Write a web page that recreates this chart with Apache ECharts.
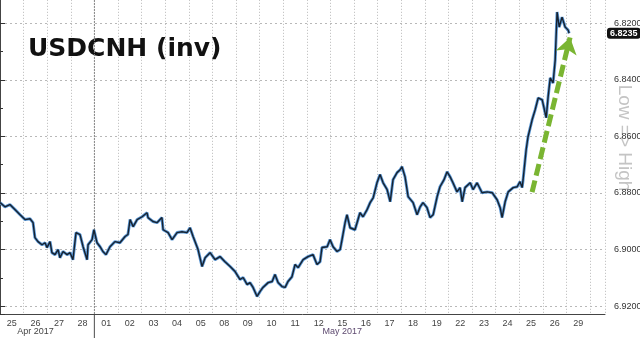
<!DOCTYPE html>
<html><head><meta charset="utf-8">
<script src="https://cdn.jsdelivr.net/npm/echarts@6/dist/echarts.min.js"></script>
<style>html,body{margin:0;padding:0;background:#fff}#c{width:640px;height:343px}</style>
</head><body><div id="c"></div>
<script>
// ---- data ----
const dayLabels = ['25','26','27','28','01','02','03','04','05','08','09','10','11','12','15','16','17','18','19','22','23','24','25','26','29'];
const monthLabels = ['Apr 2017', 'May 2017'];
const monthLabelDays = [1, 14];
const monthStartDay = 4;
const titleText = 'USDCNH (inv)';
const axisNote = 'Low => High';
// time in trading days from Apr 25 open
const times = [0.00,0.21,0.42,0.47,0.64,0.85,1.06,1.27,1.40,1.48,1.61,1.78,1.91,1.99,2.12,2.20,2.33,2.46,2.54,2.67,2.84,2.97,3.09,3.22,3.39,3.52,3.69,3.73,3.90,3.98,
4.11,4.24,4.36,4.49,4.66,4.87,5.08,5.30,5.42,5.51,5.64,5.81,6.02,6.23,6.27,6.48,6.65,6.86,6.91,7.12,7.29,7.50,7.71,7.92,8.05,8.18,8.39,8.56,8.69,8.90,
9.11,9.32,9.53,9.75,9.96,10.17,10.30,10.47,10.59,10.72,10.89,11.02,11.14,11.36,11.53,11.65,11.78,11.95,12.08,12.20,12.37,12.50,12.63,12.84,13.05,13.26,13.43,13.56,13.64,13.86,
13.98,14.11,14.28,14.41,14.49,14.62,14.70,14.83,15.04,15.25,15.38,15.55,15.68,15.81,15.97,16.10,16.23,16.40,16.53,16.65,16.82,16.95,17.03,17.16,17.29,17.50,17.67,17.80,17.92,18.09,
18.22,18.35,18.52,18.64,18.81,18.94,19.07,19.19,19.36,19.49,19.58,19.70,19.92,20.04,20.21,20.42,20.64,20.85,21.06,21.19,21.27,21.40,21.53,21.74,21.91,22.03,22.12,22.16,22.29,22.37,
22.54,22.67,22.80,22.97,23.14,23.22,23.31,23.43,23.52,23.60,23.69,23.81,23.94,24.07,24.11];
const values = [6.8834,6.8849,6.8841,6.8834,6.8859,6.8877,6.8894,6.8891,6.8905,6.8958,6.8972,6.8983,6.8976,6.8993,6.8972,6.9011,6.9018,6.9000,6.9029,6.9007,6.9018,6.9011,6.9036,6.8940,6.8947,6.8990,6.9036,6.8983,6.8965,6.8930,
6.8976,6.8990,6.9007,6.9018,6.8990,6.8972,6.8976,6.8954,6.8947,6.8894,6.8919,6.8894,6.8884,6.8870,6.8887,6.8901,6.8905,6.8887,6.8930,6.8940,6.8965,6.8940,6.8937,6.8940,6.8923,6.8954,6.9000,6.9060,6.9029,6.9011,
6.9036,6.9025,6.9043,6.9060,6.9078,6.9106,6.9099,6.9124,6.9117,6.9134,6.9166,6.9148,6.9134,6.9117,6.9113,6.9088,6.9117,6.9131,6.9134,6.9113,6.9096,6.9053,6.9064,6.9036,6.9025,6.9018,6.9053,6.9043,6.8993,6.8990,
6.8965,6.8990,6.9007,6.9000,6.8965,6.8905,6.8877,6.8923,6.8930,6.8870,6.8884,6.8859,6.8834,6.8817,6.8764,6.8735,6.8764,6.8788,6.8831,6.8753,6.8728,6.8718,6.8707,6.8743,6.8813,6.8834,6.8877,6.8849,6.8834,6.8852,
6.8887,6.8877,6.8813,6.8778,6.8753,6.8725,6.8743,6.8764,6.8796,6.8781,6.8831,6.8781,6.8764,6.8788,6.8764,6.8799,6.8796,6.8799,6.8824,6.8852,6.8887,6.8831,6.8796,6.8781,6.8778,6.8760,6.8781,6.8753,6.8647,6.8601,
6.8542,6.8506,6.8464,6.8471,6.8534,6.8460,6.8393,6.8411,6.8330,6.8160,6.8213,6.8178,6.8213,6.8224,6.8235];
const lastPrice = 6.8235;
const arrowFrom = [22.54, 6.8797];
const arrowTo = [24.15, 6.8250];

// ---- chart ----
const chart = echarts.init(document.getElementById('c'), null, {renderer: 'canvas'});
const seriesData = times.map((t, i) => [t, values[i]]);
const font = 'Liberation Sans';
const X_MAX = 25.63;
const Y_MIN = 6.80, Y_MAX = 6.9228;

chart.setOption({
  animation: false,
  backgroundColor: '#ffffff',
  grid: {left: 0, right: 35, top: -33.2, bottom: 29, containLabel: false, outerBoundsMode: 'none'},
  xAxis: [{
    type: 'value', min: 0, max: X_MAX, interval: 1,
    axisLine: {show: true, onZero: false, lineStyle: {color: '#444', width: 1}},
    axisTick: {show: false},
    axisLabel: {show: false},
    splitLine: {show: true, lineStyle: {color: '#b8b8b8', type: [1, 2], width: 1}}
  }, {
    type: 'value', min: -0.5, max: X_MAX - 0.5, interval: 0.5, position: 'bottom',
    axisLine: {show: false}, axisTick: {show: false}, splitLine: {show: false},
    axisLabel: {
      show: true, margin: 5, fontFamily: font, fontSize: 9, color: '#444',
      showMinLabel: true, showMaxLabel: true,
      formatter: v => {
        const r = Math.round(v);
        if (Math.abs(v - r) > 1e-6) return '';
        return dayLabels[r] !== undefined ? dayLabels[r] : '';
      }
    }
  }],
  yAxis: {
    type: 'value', position: 'right', inverse: true,
    min: Y_MIN, max: Y_MAX, interval: 0.02,
    axisLine: {show: true, lineStyle: {color: '#444', width: 1}},
    axisTick: {show: true, length: 5, lineStyle: {color: '#333'}},
    minorTick: {show: true, splitNumber: 2, length: 3, lineStyle: {color: '#333'}},
    axisLabel: {
      margin: 9, fontFamily: font, fontSize: 9, color: '#333', showMaxLabel: false,
      formatter: v => (Math.abs(v - Y_MAX) < 1e-6 ? '' : v.toFixed(4))
    },
    splitLine: {show: true, lineStyle: {color: '#b8b8b8', type: [2, 3], width: 1}}
  },
  series: [{
    type: 'line', xAxisIndex: 0, data: seriesData, showSymbol: false,
    lineStyle: {color: '#5b98d6', width: 3}, z: 2, silent: true
  }, {
    type: 'line', xAxisIndex: 0, data: seriesData, showSymbol: false,
    lineStyle: {color: '#17222f', width: 1.4}, z: 3, silent: true
  }, {
    type: 'line', xAxisIndex: 0, data: [], silent: true,
    markLine: {
      silent: true, symbol: ['none', 'arrow'], symbolSize: [16, 16],
      lineStyle: {color: '#7ab532', width: 5, type: [12, 5]},
      label: {show: false},
      data: [[{coord: arrowFrom}, {coord: arrowTo}]]
    }
  }]
});

// decorations placed from axis coordinates
const bottomY = chart.convertToPixel({yAxisIndex: 0}, Y_MAX);
const rightX = chart.convertToPixel({xAxisIndex: 0}, X_MAX);
const divX = chart.convertToPixel({xAxisIndex: 0}, monthStartDay);
const priceY = chart.convertToPixel({yAxisIndex: 0}, lastPrice);
const gfx = [
  {type: 'text', left: 28, top: 37, style: {text: titleText, font: 'bold 25px "DejaVu Sans"', fill: '#111'}},
  {type: 'line', shape: {x1: divX, y1: 0, x2: divX, y2: bottomY}, style: {stroke: '#888', lineWidth: 1, lineDash: [2, 1]}},
  {type: 'line', shape: {x1: divX, y1: bottomY, x2: divX, y2: bottomY + 24}, style: {stroke: '#666', lineWidth: 1.2}},
  {type: 'text', x: rightX + 19, y: 138, rotation: -Math.PI / 2, z: -1,
   style: {text: axisNote, font: '19px "Liberation Sans"', fill: '#c4c4c4', align: 'center', verticalAlign: 'middle'}},
  {type: 'text', x: rightX + 2, y: priceY, z: 100,
   style: {text: lastPrice.toFixed(4), font: 'bold 9px "Liberation Sans"', fill: '#fff', verticalAlign: 'middle',
           backgroundColor: '#111', padding: [1, 3, 1, 3], borderRadius: 3}}
];
monthLabels.forEach((m, i) => {
  const x = chart.convertToPixel({xAxisIndex: 0}, monthLabelDays[i] + 0.5);
  gfx.push({type: 'text', x: x, y: bottomY + 18, style: {text: m, font: '9px "Liberation Sans"', fill: i === 0 ? '#444' : '#5e4a70', align: 'center', verticalAlign: 'middle'}});
});
chart.setOption({graphic: gfx});
</script>
</body></html>
